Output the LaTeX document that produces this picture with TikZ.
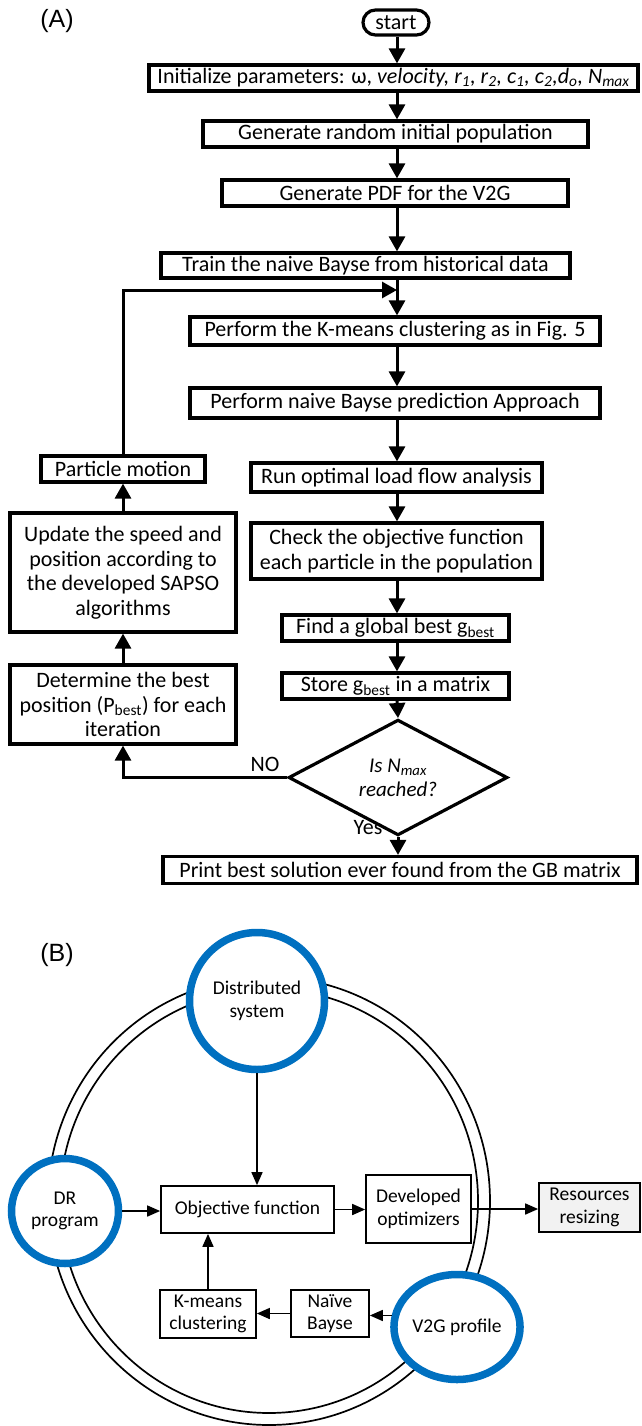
\documentclass[tikz,border=0pt]{standalone}
\usepackage{fontspec}
\setmainfont{Carlito}
\newfontfamily\panelfont{Liberation Sans}
\usetikzlibrary{arrows.meta,shapes.geometric,shapes.misc}
\definecolor{ringblue}{HTML}{0070C0}
\definecolor{resgray}{HTML}{F2F2F2}
\begin{document}
\begin{tikzpicture}[x=1pt,y=-1pt,
  abox/.style={draw, line width=3.2pt, rectangle, inner sep=0pt, align=center,
    font=\fontsize{22}{24.5}\selectfont},
  aarrow/.style={line width=3pt, -{Triangle[length=15pt,width=16pt]}},
  bbox/.style={draw, line width=1.7pt, rectangle, inner sep=0pt, align=center,
    font=\fontsize{19.5}{22.5}\selectfont},
  bcirc/.style={draw=ringblue, line width=7.5pt, ellipse, fill=white, inner sep=0pt, align=center,
    font=\fontsize{19.5}{22.5}\selectfont},
  barrow/.style={line width=1.6pt, -{Triangle[length=13pt,width=11pt]}},
  lbl/.style={inner sep=0pt, font=\fontsize{22}{24.5}\selectfont},
  panel/.style={inner sep=0pt, font=\panelfont\fontsize{25}{28}\selectfont}
]
\useasboundingbox (0,0) rectangle (641,1426);

% ---------- (A) ----------
\node[panel] (pA) at (57,21) {(A)};
\coordinate (ax) at (397,0);

\node[draw, line width=3.2pt, rounded rectangle, inner sep=0pt, minimum width=66pt, minimum height=25pt,
  font=\fontsize{22}{24.5}\selectfont] (start) at (396,22.5) {start};
\node[abox, minimum width=489pt, minimum height=26pt] (init) at (393.5,78) {Initialize parameters: ω, \textit{velocity, r\textsubscript{1}, r\textsubscript{2}, c\textsubscript{1}, c\textsubscript{2},d\textsubscript{o}, N\textsubscript{max}}};
\node[abox, minimum width=385pt, minimum height=26pt] (gen) at (395.5,134) {Generate random initial population};
\node[abox, minimum width=346pt, minimum height=26pt] (pdf) at (395,193) {Generate PDF for the V2G};
\node[abox, minimum width=409pt, minimum height=25pt] (train) at (365.5,265.5) {Train the naive Bayse from historical data};
\node[abox, minimum width=410pt, minimum height=28pt] (kmA) at (395,331) {Perform the K-means clustering as in Fig. 5};
\node[abox, minimum width=410pt, minimum height=30pt] (nbA) at (395,403) {Perform naive Bayse prediction Approach};
\node[abox, minimum width=291pt, minimum height=29pt] (run) at (396.5,477.5) {Run optimal load flow analysis};
\node[abox, minimum width=291pt, minimum height=56pt] (check) at (396.5,551) {Check the objective function\\each particle in the population};
\node[abox, minimum width=227pt, minimum height=26pt] (find) at (395.5,628) {Find a global best g\textsubscript{best}};
\node[abox, minimum width=227pt, minimum height=26pt] (store) at (395.5,686) {Store g\textsubscript{best} in a matrix};
\node[draw, line width=3.2pt, diamond, inner sep=0pt, minimum width=219pt, minimum height=85pt, align=center,
  font=\fontsize{21}{24}\selectfont] (dec) at (398,777.5) {\textit{Is N\textsubscript{max}}\\\textit{reached?}};
\node[abox, minimum width=474pt, minimum height=27pt] (print) at (400,870) {Print best solution ever found from the GB matrix};

\node[abox, minimum width=164pt, minimum height=26pt] (part) at (123,469) {Particle motion};
\node[abox, minimum width=226pt, minimum height=119pt] (upd) at (123,572.5) {Update the speed and\\position according to\\the developed SAPSO\\algorithms};
\node[abox, minimum width=226pt, minimum height=79pt] (det) at (123,704.5) {Determine the best\\position (P\textsubscript{best}) for each\\iteration};

\node[lbl] (no) at (265,764) {NO};
\node[lbl] (yes) at (368,828) {Yes};

\coordinate (loopj) at (397,290);

\draw[aarrow] (start.south -| ax) -- (init.north -| ax);
\draw[aarrow] (init.south -| ax) -- (gen.north -| ax);
\draw[aarrow] (gen.south -| ax) -- (pdf.north -| ax);
\draw[aarrow] (pdf.south -| ax) -- (train.north -| ax);
\draw[aarrow] (train.south -| ax) -- (kmA.north -| ax);
\draw[aarrow] (kmA.south -| ax) -- (nbA.north -| ax);
\draw[aarrow] (nbA.south -| ax) -- (run.north -| ax);
\draw[aarrow] (run.south -| ax) -- (check.north -| ax);
\draw[aarrow] (check.south -| ax) -- (find.north -| ax);
\draw[aarrow] (find.south -| ax) -- (store.north -| ax);
\draw[aarrow] (store.south -| ax) -- (dec.north);
\draw[aarrow] (dec.south) -- (print.north -| dec.south);
\draw[aarrow] (dec.west) -| (det.south);
\draw[aarrow] (det.north) -- (upd.south);
\draw[aarrow] (upd.north) -- (part.south);
\draw[aarrow] (part.north) |- (loopj);

% ---------- (B) ----------
\node[panel] (pB) at (57,955) {(B)};

\draw[line width=1.7pt] (269,1201) ellipse [x radius=221, y radius=224];
\draw[line width=1.7pt] (269,1201) ellipse [x radius=209, y radius=212];

\node[bcirc, minimum width=135pt, minimum height=137pt] (dist) at (257,1001) {Distributed\\system};
\node[bcirc, minimum width=107pt, minimum height=105pt] (dr) at (65,1211) {DR\\program};
\node[bcirc, minimum width=104pt, minimum height=105pt] (v2g) at (457,1327) {V2G profile};

\node[bbox, minimum width=173pt, minimum height=47pt] (obj) at (247.5,1209.5) {Objective function};
\node[bbox, minimum width=105pt, minimum height=68pt] (dev) at (418.5,1209) {Developed\\optimizers};
\node[bbox, fill=resgray, minimum width=101pt, minimum height=49pt] (res) at (589.5,1207.5) {Resources\\resizing};
\node[bbox, minimum width=96pt, minimum height=48pt] (km) at (208,1314) {K-means\\clustering};
\node[bbox, minimum width=78pt, minimum height=47pt] (nb) at (330,1313.5) {Naïve\\Bayse};

\draw[barrow] (dist.south) -- (dist.south |- obj.north);
\draw[barrow] (dr.east) -- (dr.east -| obj.west);
\draw[barrow] (obj.east) -- (obj.east -| dev.west);
\draw[barrow] (dev.east) -- (dev.east -| res.west);
\draw[barrow] (v2g.170) -- (v2g.170 -| nb.east);
\draw[barrow] (nb.west) -- (nb.west -| km.east);
\draw[barrow] (km.north) -- (km.north |- obj.south);
\end{tikzpicture}
\end{document}
